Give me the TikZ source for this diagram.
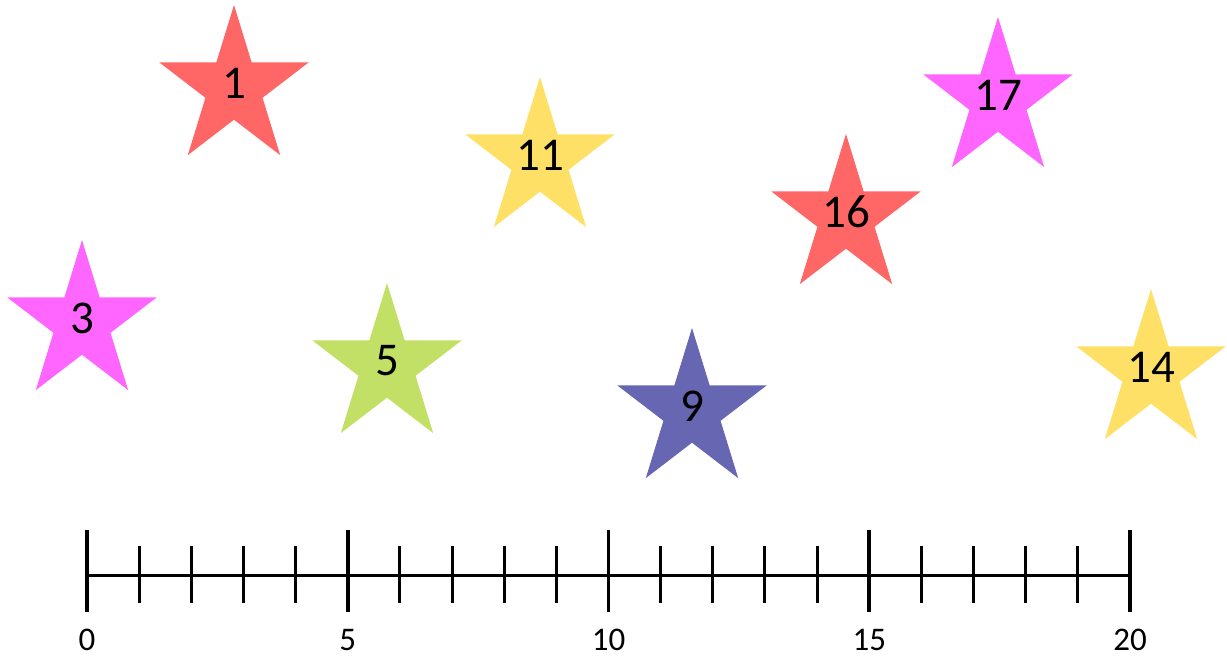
\documentclass[tikz,border=0pt]{standalone}
\usepackage{fontspec}
\setmainfont{Carlito}
\definecolor{sred}{HTML}{FF6666}
\definecolor{syel}{HTML}{FFE066}
\definecolor{smag}{HTML}{FF66FF}
\definecolor{sgrn}{HTML}{C3E066}
\definecolor{sblu}{HTML}{6666B3}
\tikzset{
  lbl/.style={font=\fontsize{47}{52}\selectfont, text=black, inner sep=0pt},
  axislbl/.style={font=\fontsize{33}{38}\selectfont, text=black, inner sep=0pt},
  axisline/.style={line width=3pt, black},
  majortick/.style={line width=3.6pt, black},
  minortick/.style={line width=3pt, black}
}
\newcommand\pstar[5]{%
  \fill[#4, shift={(#2,#3)}, xscale=78.6, yscale=83]
    (90:1) -- (126:0.382) -- (162:1) -- (198:0.382) -- (234:1) -- (270:0.382)
    -- (306:1) -- (342:0.382) -- (18:1) -- (54:0.382) -- cycle;
  \node[lbl] (#1) at (#2,#3+5) {#5};}
\begin{document}
\begin{tikzpicture}[x=1pt,y=1pt]
\useasboundingbox (0,0) rectangle (1227,657);
\pstar{s1}{234}{569}{sred}{1}
\pstar{s11}{540}{497}{syel}{11}
\pstar{s16}{846}{440}{sred}{16}
\pstar{s17}{998}{557}{smag}{17}
\pstar{s3}{82}{334}{smag}{3}
\pstar{s5}{387}{291}{sgrn}{5}
\pstar{s9}{692}{246}{sblu}{9}
\pstar{s14}{1151}{285}{syel}{14}
% number line
\coordinate (a0) at (87,82);
\coordinate (a20) at (1130,82);
\draw[axisline] (a0) -- (a20);
\foreach \i in {1,2,3,4,6,7,8,9,11,12,13,14,16,17,18,19}
  \draw[minortick] ({87+52.15*\i},111) -- ({87+52.15*\i},54);
\foreach \i in {0,5,10,15,20} {
  \draw[majortick] ({87+52.15*\i},127) -- ({87+52.15*\i},45);
  \node[axislbl] (l\i) at ({87+52.15*\i},17) {\i};
}
\end{tikzpicture}
\end{document}
